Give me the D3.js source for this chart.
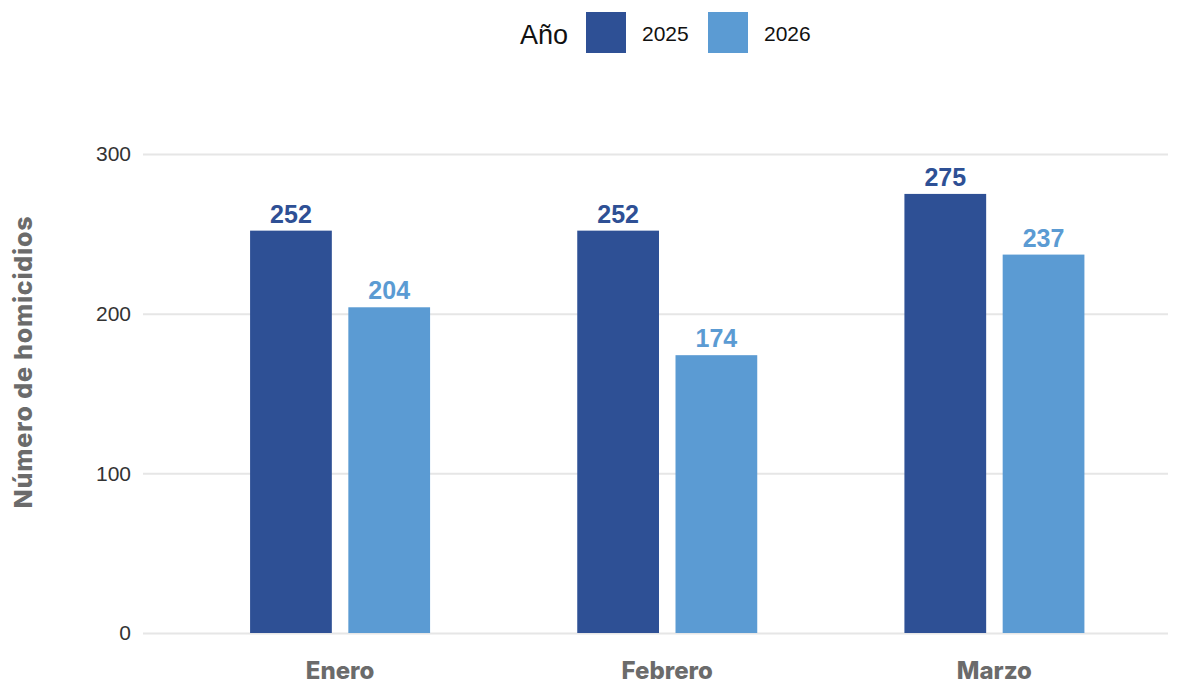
<!DOCTYPE html>
<html>
<head>
<meta charset="utf-8">
<script src="https://cdn.jsdelivr.net/npm/d3@7"></script>
<style>
  body { margin: 0; background: #fff; }
  svg { display: block; }
</style>
</head>
<body>
<div id="chart"></div>
<script>
// data
const months = ["Enero", "Febrero", "Marzo"];
const years = ["2025", "2026"];
const values2025 = [252, 252, 275];
const values2026 = [204, 174, 237];
const yTicks = [0, 100, 200, 300];
const colors = ["#2E5095", "#5B9BD3"];

const width = 1183, height = 684;

const svg = d3.select("#chart").append("svg")
  .attr("width", width)
  .attr("height", height);

const y = d3.scaleLinear().domain([0, 300]).range([633, 154]);
const x0 = d3.scaleBand().domain(months).range([176.5, 1158]).padding(0);
const x1 = d3.scaleBand().domain(years).range([0, 180]).paddingInner(0.168);
const color = d3.scaleOrdinal().domain(years).range(colors);

// gridlines + y labels
const yAxis = d3.axisLeft(y).tickValues(yTicks).tickSize(-(1168 - 143)).tickPadding(12);
const gy = svg.append("g")
  .attr("transform", "translate(143,0)")
  .call(yAxis);
gy.select(".domain").remove();
gy.selectAll(".tick line").attr("stroke", "#e6e6e6").attr("stroke-width", 2);
gy.selectAll(".tick text")
  .attr("font-family", "Liberation Sans, Arial, sans-serif")
  .attr("font-size", 21)
  .attr("fill", "#333");

// y title
svg.append("text")
  .attr("transform", "translate(32,362) rotate(-90)")
  .attr("text-anchor", "middle")
  .attr("font-family", "Inter, sans-serif")
  .attr("font-weight", 800)
  .attr("font-size", 25)
  .attr("letter-spacing", 0.8)
  .attr("fill", "#6b6b6b")
  .text("Número de homicidios");

// bars
const rows = months.map((m, i) => ({ month: m, vals: [
  { year: years[0], value: values2025[i] },
  { year: years[1], value: values2026[i] }
]}));

const groups = svg.append("g").selectAll("g")
  .data(rows)
  .join("g")
  .attr("transform", d => `translate(${x0(d.month) + (x0.bandwidth() - 180) / 2},0)`);

groups.selectAll("rect")
  .data(d => d.vals)
  .join("rect")
  .attr("x", d => x1(d.year))
  .attr("y", d => y(d.value))
  .attr("width", x1.bandwidth())
  .attr("height", d => y(0) - y(d.value))
  .attr("fill", d => color(d.year));

groups.selectAll("text")
  .data(d => d.vals)
  .join("text")
  .attr("x", d => x1(d.year) + x1.bandwidth() / 2)
  .attr("y", d => y(d.value) - 8)
  .attr("text-anchor", "middle")
  .attr("font-family", "Liberation Sans, Arial, sans-serif")
  .attr("font-weight", 700)
  .attr("font-size", 25)
  .attr("fill", d => color(d.year))
  .text(d => d.value);

// x labels
svg.append("g").selectAll("text")
  .data(months)
  .join("text")
  .attr("x", d => x0(d) + x0.bandwidth() / 2)
  .attr("y", 679)
  .attr("text-anchor", "middle")
  .attr("font-family", "Inter, sans-serif")
  .attr("font-weight", 800)
  .attr("font-size", 24)
  .attr("fill", "#6b6b6b")
  .text(d => d);

// legend
const legend = svg.append("g");
legend.append("text")
  .attr("x", 520).attr("y", 44)
  .attr("font-family", "Liberation Sans, Arial, sans-serif")
  .attr("font-size", 27)
  .attr("fill", "#111")
  .text("Año");
const items = legend.selectAll("g")
  .data(years)
  .join("g")
  .attr("transform", (d, i) => `translate(${586 + i * 122},12)`);
items.append("rect")
  .attr("width", 40).attr("height", 41)
  .attr("fill", d => color(d));
items.append("text")
  .attr("x", 56).attr("y", 29)
  .attr("font-family", "Liberation Sans, Arial, sans-serif")
  .attr("font-size", 21)
  .attr("fill", "#111")
  .text(d => d);
</script>
</body>
</html>
